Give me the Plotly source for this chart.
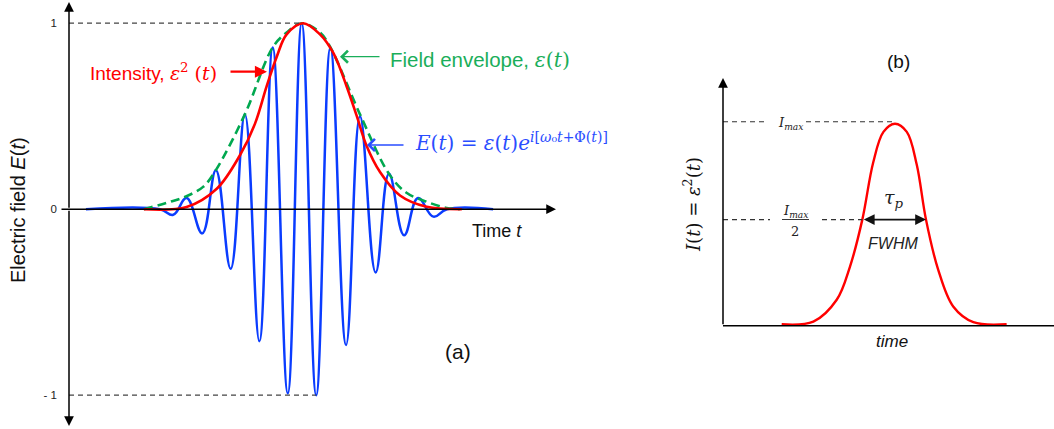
import plotly.graph_objects as go
import numpy as np

# ---------------- data ----------------
# Panel (a): time in units of one optical cycle, centred on the pulse peak
field_t = [-7.44, -4.89, -4.43, -3.97, -3.43, -2.96, -2.45, -1.96, -1.46, -1.00, -0.48,
           0.00, 0.50, 0.99, 1.53, 2.01, 2.55, 3.01, 3.53, 4.01, 4.54, 5.01, 6.60]
field_E = [0.00, 0.00, -0.03, 0.06, -0.13, 0.21, -0.32, 0.51, -0.71, 0.87, -0.99,
           1.00, -1.00, 0.87, -0.73, 0.50, -0.34, 0.19, -0.14, 0.06, -0.04, 0.00, 0.00]

env_t = [-5.44, -4.53, -3.97, -3.40, -2.96, -1.96, -1.00, -0.52, 0.00, 0.63, 0.99,
         2.01, 3.01, 3.60, 4.31, 5.00, 5.45]
env_v = [0.00, 0.04, 0.07, 0.12, 0.21, 0.51, 0.87, 0.95, 1.00, 0.95, 0.87,
         0.51, 0.19, 0.09, 0.04, 0.007, 0.00]

int_t = [-5.44, -3.97, -2.93, -2.13, -1.61, -1.21, -0.86, -0.52, 0.05, 0.63, 1.09,
         1.55, 1.90, 2.24, 2.70, 3.39, 4.31, 5.52]
int_v = [0.00, 0.012, 0.11, 0.29, 0.46, 0.66, 0.82, 0.94, 1.00, 0.94, 0.84,
         0.66, 0.50, 0.34, 0.20, 0.074, 0.013, 0.00]

a_tickvals = [1, 0, -1]
a_ticktext = ["1", "0", "- 1"]

# Panel (b): intensity profile
b_t = [-3.51, -2.52, -1.79, -1.375, -0.99, -0.65, -0.33, 0.03, 0.40, 0.71, 1.00,
       1.38, 1.85, 2.48, 3.52]
b_I = [0.007, 0.02, 0.127, 0.29, 0.52, 0.80, 0.95, 0.99, 0.95, 0.79, 0.52,
       0.275, 0.094, 0.017, 0.007]
b_levels = [1.0, 0.52]   # I_max and I_max/2 reference levels

# ---------------- colours ----------------
RED = "#FF0000"
BLUE = "#0A3CFF"
GREEN = "#00A84F"
GREEN_TXT = "#1AAE5A"
BLUE_TXT = "#2A4DFF"
SERIF = "DejaVu Serif"
SANS = "Liberation Sans"

W, H = 1054, 429


def px(x):
    return x / W


def py(y):
    return 1 - y / H


fig = go.Figure()

fig.add_trace(go.Scatter(x=field_t, y=field_E, mode="lines",
                         line=dict(color=BLUE, width=2.5, shape="spline", smoothing=1.2),
                         xaxis="x", yaxis="y", hoverinfo="skip"))
fig.add_trace(go.Scatter(x=env_t, y=env_v, mode="lines",
                         line=dict(color=GREEN, width=2.6, dash="9px,5px", shape="spline"),
                         xaxis="x", yaxis="y", hoverinfo="skip"))
fig.add_trace(go.Scatter(x=int_t, y=int_v, mode="lines",
                         line=dict(color=RED, width=2.6, shape="spline"),
                         xaxis="x", yaxis="y", hoverinfo="skip"))
fig.add_trace(go.Scatter(x=b_t, y=b_I, mode="lines",
                         line=dict(color=RED, width=2.4, shape="spline"),
                         xaxis="x2", yaxis="y2", hoverinfo="skip"))

# ---------------- axes geometry ----------------
# panel (a): t = (pixel - 301.7)/29 ; value = (209.2 - pixel_y)/186
A_T0, A_SC = 301.7, 29.0
A_Y0, A_YS = 209.2, 186.0


def ta(p):
    return (p - A_T0) / A_SC


def va(p):
    return (A_Y0 - p) / A_YS


B_T0, B_SC = 894.0, 32.0
B_Y0, B_YS = 325.7, 204.0


def tb(p):
    return (p - B_T0) / B_SC


def vb(p):
    return (B_Y0 - p) / B_YS


fig.update_layout(
    width=W, height=H, margin=dict(l=0, r=0, t=0, b=0),
    paper_bgcolor="white", plot_bgcolor="white", showlegend=False,
    xaxis=dict(domain=[0, 560 / W], range=[ta(0), ta(560)], visible=False),
    yaxis=dict(domain=[0, 1], range=[va(H), va(0)], anchor="free", position=69 / W,
               showline=False, showgrid=False, zeroline=False, ticks="",
               tickvals=a_tickvals, ticktext=a_ticktext, ticklabelstandoff=12,
               tickfont=dict(family=SANS, size=11.5, color="#222")),
    xaxis2=dict(domain=[700 / W, 1], range=[tb(700), tb(W)], visible=False, anchor="y2"),
    yaxis2=dict(domain=[0, 1], range=[vb(H), vb(0)], visible=False, anchor="x2"),
)

shapes = []
ann = []

# --- panel (a) axes as arrows ---
ya_x = ta(69)


def axis_arrow(xref, yref, x, y, ax, ay, width=1.5):
    ann.append(dict(xref=xref, yref=yref, axref=xref, ayref=yref, x=x, y=y, ax=ax, ay=ay,
                    text="", showarrow=True, arrowhead=2, arrowsize=1.3, arrowwidth=width,
                    arrowcolor="black", standoff=0, startstandoff=0))


axis_arrow("x", "y", ya_x, va(2), ya_x, 0)
axis_arrow("x", "y", ya_x, va(426), ya_x, 0)
axis_arrow("x", "y", ta(556), 0, ta(60), 0)

# dashed reference lines at +1 and -1
i_max = int(np.argmax(field_E))
i_min = len(field_E) - 1 - int(np.argmin(field_E[::-1]))
shapes.append(dict(type="line", xref="x", yref="y", x0=ya_x, x1=field_t[i_max],
                   y0=a_tickvals[0], y1=a_tickvals[0],
                   line=dict(color="#444", width=1.3, dash="5px,4px")))
shapes.append(dict(type="line", xref="x", yref="y", x0=ya_x, x1=field_t[i_min],
                   y0=a_tickvals[2], y1=a_tickvals[2],
                   line=dict(color="#444", width=1.3, dash="5px,4px")))

# --- panel (b) axes ---
yb_x = tb(723)
axis_arrow("x2", "y2", yb_x, vb(78), yb_x, 0)
shapes.append(dict(type="line", xref="x2", yref="y2", x0=yb_x, x1=tb(W), y0=0, y1=0,
                   line=dict(color="black", width=1.5)))

# dashed I_max and I_max/2 lines with gaps for labels
i_pk = int(np.argmax(b_I))
dash_b = dict(color="#333", width=1.1, dash="5px,4px")
shapes.append(dict(type="line", xref="x2", yref="y2", x0=yb_x, x1=tb(768),
                   y0=b_levels[0], y1=b_levels[0], line=dash_b))
shapes.append(dict(type="line", xref="x2", yref="y2", x0=tb(806), x1=b_t[i_pk],
                   y0=b_levels[0], y1=b_levels[0], line=dash_b))
shapes.append(dict(type="line", xref="x2", yref="y2", x0=yb_x, x1=tb(770),
                   y0=b_levels[1], y1=b_levels[1], line=dash_b))
shapes.append(dict(type="line", xref="x2", yref="y2", x0=tb(822), x1=b_t[4],
                   y0=b_levels[1], y1=b_levels[1], line=dash_b))

# FWHM double arrow
ann.append(dict(xref="x2", yref="y2", axref="x2", ayref="y2", x=b_t[10], y=b_levels[1],
                ax=b_t[4], ay=b_levels[1], text="", showarrow=True, arrowhead=2,
                arrowside="end+start", arrowsize=1.2, arrowwidth=1.8, arrowcolor="#111",
                standoff=0, startstandoff=0))

# fraction bar for I_max/2
shapes.append(dict(type="line", xref="paper", yref="paper", x0=px(782), x1=px(809),
                   y0=py(219.5), y1=py(219.5), line=dict(color="#222", width=0.9)))


def text(x, y, s, size, color="#111", family=SANS, xanchor="center", yanchor="middle", angle=0):
    ann.append(dict(xref="paper", yref="paper", x=px(x), y=py(y), text=s, showarrow=False,
                    xanchor=xanchor, yanchor=yanchor, textangle=angle,
                    font=dict(family=family, size=size, color=color)))


def ser(s):
    return f"<span style=\"font-family:'{SERIF}'\">{s}</span>"


# --- panel (a) texts ---
text(18, 210, "Electric field <i>E</i>(<i>t</i>)", 20, angle=-90)
text(88, 72, "Intensity, " + ser("<i>ε</i><sup>2</sup> (<i>t</i>)"), 19, color=RED, xanchor="left")
text(388, 60, "Field envelope, " + ser("<i>ε</i>(<i>t</i>)"), 20.5, color=GREEN_TXT, xanchor="left")
text(413, 142, ser("<i>E</i>(<i>t</i>) = <i>ε</i>(<i>t</i>)<i>e</i><sup><i>i</i>[<i>ω</i>₀<i>t</i>+Φ(<i>t</i>)]</sup>"),
     20, color=BLUE_TXT, xanchor="left")
text(470, 231, "Time <i>t</i>", 18, xanchor="left")
text(458, 351, "(a)", 21)

# annotation arrows (a)
ann.append(dict(xref="paper", yref="paper", x=px(267), y=py(71.7), ax=-38, ay=0, text="",
                showarrow=True, arrowhead=2, arrowsize=1.1, arrowwidth=2.2, arrowcolor=RED,
                standoff=0))
ann.append(dict(xref="paper", yref="paper", x=px(340), y=py(56.7), ax=41, ay=0, text="",
                showarrow=True, arrowhead=4, arrowsize=1.8, arrowwidth=1.3, arrowcolor=GREEN_TXT,
                standoff=0))
ann.append(dict(xref="paper", yref="paper", x=px(367), y=py(145), ax=38, ay=0, text="",
                showarrow=True, arrowhead=4, arrowsize=1.8, arrowwidth=1.3, arrowcolor=BLUE_TXT,
                standoff=0))

# --- panel (b) texts ---
text(898, 62, "(b)", 19)
text(692, 205, ser("<i>I</i>(<i>t</i>) = <i>ε</i><sup>2</sup>(<i>t</i>)"), 18, angle=-90)
text(790, 124, ser("<i>I</i><sub><i>max</i></sub>"), 13, color="#222")
text(795, 211, ser("<i>I</i><sub><i>max</i></sub>"), 13, color="#222")
text(795, 231, ser("2"), 13, color="#222")
text(894, 199, ser("<i>τ</i><sub><i>p</i></sub>"), 19, color="#222")
text(893, 243, "<i>FWHM</i>", 16, color="#222")
text(892, 341, "<i>time</i>", 17, color="#111")

fig.update_layout(shapes=shapes, annotations=ann)
fig.write_html("out.html", config={"displayModeBar": False},
               post_script="document.body.style.margin='0';document.body.style.overflow='hidden';")
